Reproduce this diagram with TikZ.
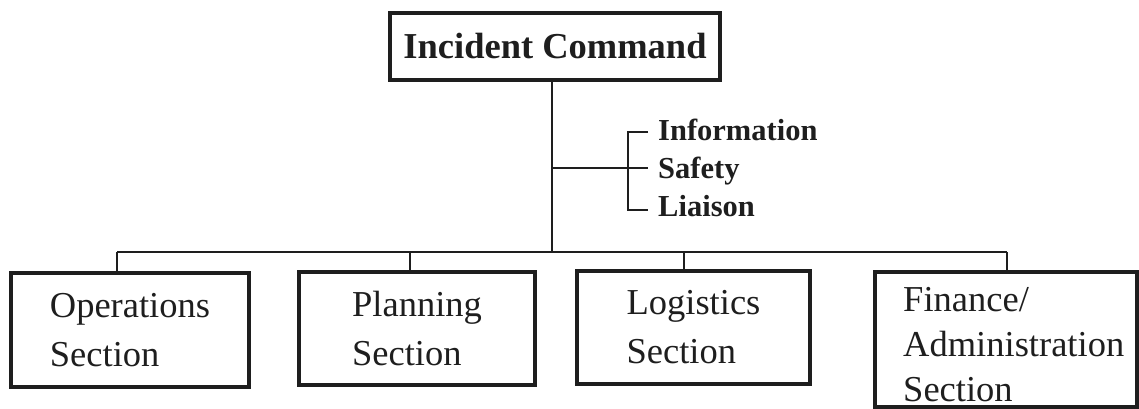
\documentclass[tikz,border=0pt]{standalone}
\usepackage{fontspec}
\setmainfont{Liberation Serif}
\definecolor{ink}{HTML}{1E1E1E}
\begin{document}
\begin{tikzpicture}[x=1pt,y=-1pt,
  box/.style={draw=ink, line width=3.4pt, inner sep=0pt, text=ink,
    font=\fontsize{36.5}{49}\selectfont, align=left},
  icbox/.style={draw=ink, line width=4.2pt, inner sep=0pt, text=ink,
    font=\bfseries\fontsize{36.5}{44}\selectfont},
  staff/.style={font=\bfseries\fontsize{30.5}{38}\selectfont, text=ink,
    anchor=base west, inner sep=0pt},
  wire/.style={draw=ink, line width=2.9pt}]
\useasboundingbox (0,0) rectangle (1139,409);
% boxes
\node[icbox, minimum width=330pt, minimum height=67pt] (ic) at (555,46.5) {Incident Command};
\node[box, minimum width=238pt, minimum height=114pt] (ops) at (130,330) {Operations\\Section};
\node[box, minimum width=236pt, minimum height=113pt] (plan) at (417,328.5) {Planning\\Section};
\node[box, minimum width=233pt, minimum height=113pt] (log) at (693.5,327.5) {Logistics\\Section};
\node[box, minimum width=262pt, minimum height=135pt] (fin) at (1006,339.5) {};
\node[inner sep=0pt, anchor=north west, align=left, text=ink,
  font=\fontsize{36.5}{45}\selectfont] (fintext) at (903,287) {Finance/\\Administration\\Section};
% staff
\node[staff] (info) at (658,140) {Information};
\node[staff] (safety) at (658,178) {Safety};
\node[staff] (liaison) at (658,216) {Liaison};
% connectors
\coordinate (d1) at (117,252);
\coordinate (d2) at (410,252);
\coordinate (d3) at (684,252);
\coordinate (d4) at (1007,252);
\coordinate (stem) at (552,252);
\coordinate (j) at (552,168);
\coordinate (bt) at (628,132);
\coordinate (bb) at (628,210);
\draw[wire] ([xshift=-3pt]ic.south) -- (stem);
\draw[wire] (d1) -- (d4);
\draw[wire] (d1) -- (d1 |- ops.north);
\draw[wire] (d2) -- (d2 |- plan.north);
\draw[wire] (d3) -- (d3 |- log.north);
\draw[wire] (d4) -- (d4 |- fin.north);
\draw[wire] (j) -- ([xshift=-10pt]safety.west |- j);
\draw[wire] ([xshift=-10pt]info.west |- bt) -- (bt) -- (bb) -- ([xshift=-10pt]liaison.west |- bb);
\end{tikzpicture}
\end{document}
